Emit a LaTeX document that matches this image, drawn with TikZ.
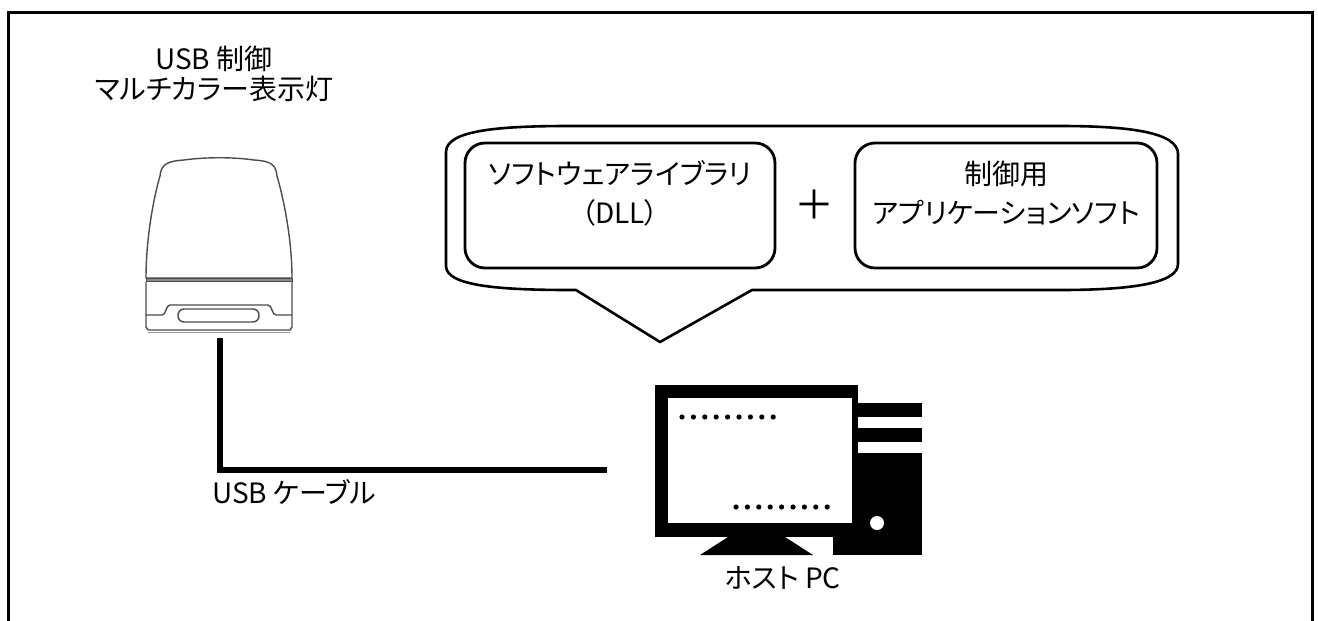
\documentclass[tikz,border=0pt]{standalone}
\usepackage{fontspec}
\setmainfont{Noto Sans CJK JP}[RawFeature=+palt]
\tikzset{
    frame/.style={line width=3pt},
    lampline/.style={draw=black!70, line width=1.4pt, line join=round},
    bubble/.style={draw, line width=2.6pt, line join=round},
    softbox/.style={draw, line width=2.8pt, rounded corners=20pt, inner sep=0pt},
    cable/.style={line width=5.5pt},
    txt/.style={inner sep=0pt, align=center, font=\fontsize{28}{30}\selectfont},
    boxtxt/.style={txt, font=\fontsize{28}{39}\selectfont}
}
\newcommand{\dotrow}[2]{
	\foreach \k in {0,...,8} \fill (#1+\k*11.4,#2) circle [radius=2.6pt];
}

\begin{document}
\begin{tikzpicture}[x=1pt,y=-1pt]
		\useasboundingbox (0,0) rectangle (1318,621);

		% open frame
		\draw[frame] (8,621) -- (8,12) -- (1312,12) -- (1312,621);

		% lamp
		\node[txt] (lamptitle) at (214,74) {USB 制御\\マルチカラー表示灯};
		\draw[lampline, fill=white] (146,278) .. controls (146,240) and (153,200) .. (160,176)
			.. controls (161,164) and (168,161) .. (184,160)
			.. controls (205,157) and (234,157) .. (254,160)
			.. controls (270,161) and (276,164) .. (277,176)
			.. controls (284,200) and (292,240) .. (292,278) -- cycle;
		\draw[draw=black!70, line width=1pt, fill=black!45] (146,278.5) rectangle (292,281.5);
		\draw[lampline] (146,282) -- (146,327) -- (148,330) -- (290,330) -- (292,327) -- (292,282);
		\draw[draw=black!40, line width=1pt] (148,332.5) -- (290,332.5);
		\draw[lampline] (146,315) -- (162,315) .. controls (166,315) and (166,305) .. (170,305)
			-- (268,305) .. controls (272,305) and (272,315) .. (276,315) -- (292,315);
		\draw[lampline, rounded corners=6pt] (178,309) rectangle (259,322);

		% cable
		\coordinate (lampfoot) at (220,338);
		\coordinate (pcport) at (607,470);
		\draw[cable] (lampfoot) |- (pcport);
		\node[txt, anchor=west] (cablelabel) at (212,492) {USB ケーブル};

		% software bubble
		\draw[bubble] (446,152) .. controls (446,130) and (500,126) .. (570,126)
			-- (1060,126) .. controls (1128,126) and (1178,132) .. (1178,154)
			-- (1178,264) .. controls (1178,284) and (1128,290) .. (1060,290)
			-- (752,290) -- (660,342) -- (576,290) -- (570,290)
			.. controls (500,290) and (446,286) .. (446,266) -- cycle;
		\node[softbox, minimum width=310pt, minimum height=125pt] (dll) at (620,205.5) {};
		\node[boxtxt] (dlltext) at (620,193) {ソフトウェアライブラリ\\（DLL）};
		\node[txt, font=\fontsize{40}{40}\selectfont] (plus) at (814,205) {＋};
		\node[softbox, minimum width=302pt, minimum height=125pt] (app) at (1006,205.5) {};
		\node[boxtxt] (apptext) at (1006,193) {制御用\\アプリケーションソフト};

		% host PC
		\fill (833,403) rectangle (922,555);
		\fill[white] (858,417) rectangle (922,428);
		\fill[white] (858,442) rectangle (922,453);
		\fill[white] (877,523) circle [radius=7pt];
		\fill (655,385) rectangle (858,537);
		\fill[white] (668,398) rectangle (852,523);
		\fill (728,537) -- (785,537) -- (813,555) -- (700,555) -- cycle;
		\dotrow{682}{417}
		\dotrow{736}{507}
		\node[txt] (pclabel) at (783,578) {ホスト PC};

	\end{tikzpicture}
\end{document}
